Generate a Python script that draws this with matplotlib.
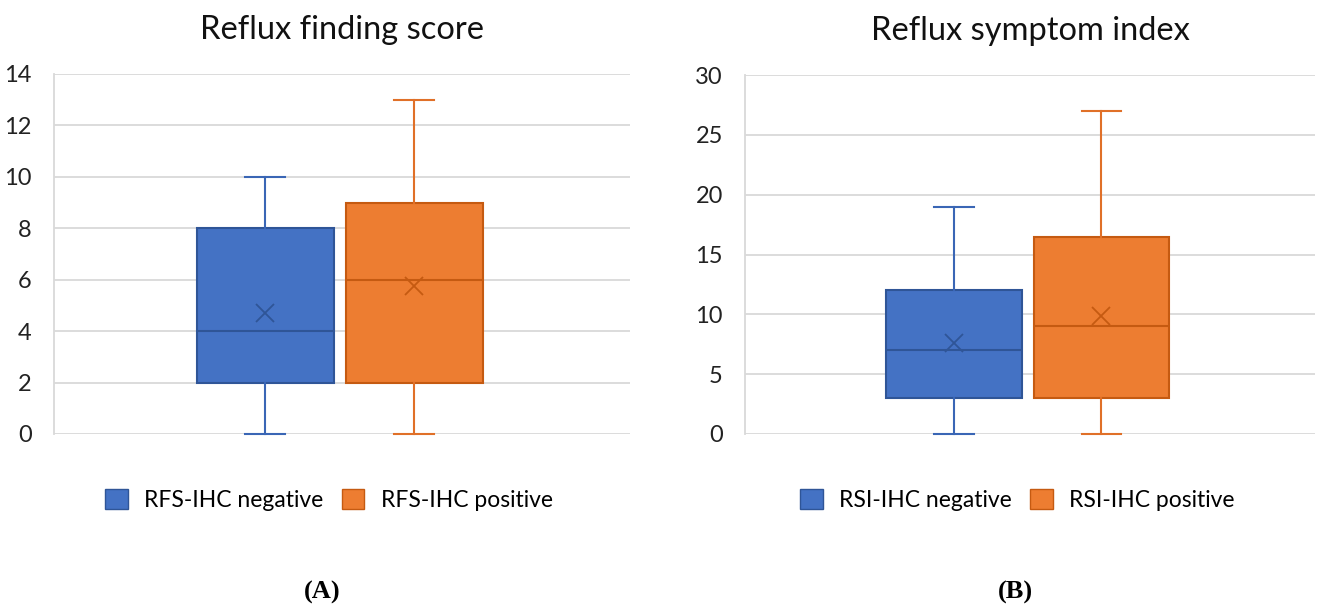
import matplotlib.pyplot as plt
from matplotlib.patches import Patch

plt.rcParams['font.family'] = ['Lato', 'DejaVu Sans']

# panel A - reflux finding score
rfs_labels = ["RFS-IHC negative", "RFS-IHC positive"]
rfs_min = [0, 0]
rfs_q1 = [2, 2]
rfs_med = [4, 6]
rfs_q3 = [8, 9]
rfs_max = [10, 13]
rfs_mean = [4.7, 5.75]

# panel B - reflux symptom index
rsi_labels = ["RSI-IHC negative", "RSI-IHC positive"]
rsi_min = [0, 0]
rsi_q1 = [3, 3]
rsi_med = [7, 9]
rsi_q3 = [12, 16.5]
rsi_max = [19, 27]
rsi_mean = [7.6, 9.85]

fill = ["#4472C4", "#ED7D31"]
edge = ["#2F5597", "#C55A11"]
whisk = ["#3A66B5", "#E07028"]


def draw_panel(ax, title, labels, lo, q1, med, q3, hi, mean, ymax, ystep):
    stats = []
    for i in range(len(labels)):
        stats.append(dict(whislo=lo[i], q1=q1[i], med=med[i], q3=q3[i],
                          whishi=hi[i], mean=mean[i], label=labels[i]))
    for i, s in enumerate(stats):
        parts = ax.bxp([s], positions=[i + 1], widths=0.92, showmeans=True,
                       patch_artist=True, showfliers=False,
                       boxprops=dict(facecolor=fill[i], edgecolor=edge[i], linewidth=1.5),
                       medianprops=dict(color=edge[i], linewidth=1.5),
                       whiskerprops=dict(color=whisk[i], linewidth=1.5),
                       capprops=dict(color=whisk[i], linewidth=1.5),
                       capwidths=0.27,
                       meanprops=dict(marker='x', markeredgecolor=edge[i],
                                      markersize=13, markeredgewidth=1.3))
        for key in parts:
            for art in parts[key]:
                art.set_clip_on(False)
    ax.set_xlim(-0.42, 3.45)
    ax.set_ylim(0, ymax)
    ax.set_yticks(range(0, ymax + 1, ystep))
    ax.set_xticks([])
    ax.yaxis.grid(True, color="#d9d9d9", linewidth=1.3)
    ax.set_axisbelow(True)
    for sp in ["top", "right", "bottom"]:
        ax.spines[sp].set_visible(False)
    ax.spines["left"].set_color("#d9d9d9")
    ax.spines["left"].set_linewidth(1.3)
    ax.tick_params(axis='y', length=0, pad=16, labelsize=17, labelcolor="#222222")
    ax.set_title(title, fontsize=23.5, pad=25, color="#111111")
    handles = [Patch(facecolor=fill[i], edgecolor=edge[i], label=labels[i])
               for i in range(len(labels))]
    ax.legend(handles=handles, loc="upper center", bbox_to_anchor=(0.477, -0.095),
              ncol=2, frameon=False, fontsize=16.5, handlelength=1.0,
              handleheight=1.0, columnspacing=0.8, handletextpad=0.7)


fig = plt.figure(figsize=(13.25, 6.1), dpi=100)
ax1 = fig.add_axes([54 / 1325, 176 / 610, 576 / 1325, 360 / 610])
ax2 = fig.add_axes([745 / 1325, 176 / 610, 570 / 1325, 359 / 610])

draw_panel(ax1, "Reflux finding score", rfs_labels, rfs_min, rfs_q1, rfs_med,
           rfs_q3, rfs_max, rfs_mean, 14, 2)
draw_panel(ax2, "Reflux symptom index", rsi_labels, rsi_min, rsi_q1, rsi_med,
           rsi_q3, rsi_max, rsi_mean, 30, 5)

fig.text(322 / 1325, 1 - 592 / 610, "(A)", ha="center", va="center",
         family="Liberation Serif", fontweight="bold", fontsize=19)
fig.text(1015 / 1325, 1 - 592 / 610, "(B)", ha="center", va="center",
         family="Liberation Serif", fontweight="bold", fontsize=19)

fig.savefig("out.png", dpi=100)
